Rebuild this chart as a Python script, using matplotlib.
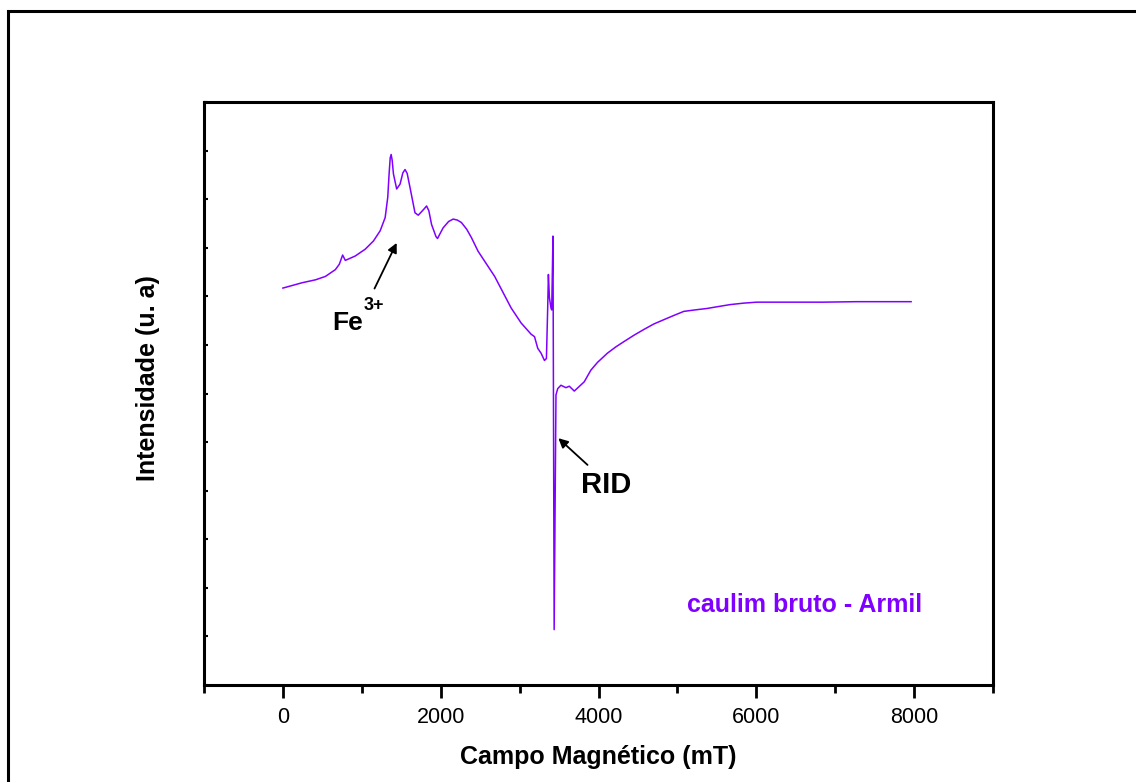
import matplotlib
matplotlib.use("Agg")
import matplotlib.pyplot as plt
from matplotlib.patches import Rectangle
from matplotlib.ticker import MultipleLocator, NullFormatter

# ---- data ----
field_mT = [0, 244, 413, 539, 665, 715, 757, 791, 917, 1043, 1148, 1233, 1296, 1329,
            1346, 1360, 1372, 1385, 1401, 1442, 1485, 1520, 1548, 1575, 1611, 1674,
            1716, 1790, 1821, 1850, 1884, 1940, 1960, 1985,
            2031, 2100, 2158, 2210, 2262, 2330, 2389, 2473, 2684, 2790, 2893, 3020, 3146,
            3189, 3230, 3272, 3315, 3340, 3356, 3365, 3378, 3398, 3407, 3423, 3438, 3461,
            3483, 3524, 3587, 3630, 3693, 3819, 3903, 3987, 4113, 4220, 4324, 4450, 4577,
            4700, 4829, 4960, 5081, 5220, 5375, 5520, 5669, 5840, 6006, 6426, 6847, 7268,
            7688, 7962]
intensity = [8.17, 8.28, 8.34, 8.41, 8.55, 8.66, 8.85, 8.74, 8.83, 8.97, 9.14, 9.35,
             9.62, 10.04, 10.52, 10.85, 10.92, 10.80, 10.52, 10.21, 10.31, 10.54, 10.61,
             10.53, 10.24, 9.72, 9.67, 9.80, 9.86, 9.76, 9.48, 9.23, 9.19, 9.27,
             9.41, 9.54, 9.59, 9.57, 9.52, 9.38, 9.21, 8.93, 8.41, 8.08, 7.76, 7.45, 7.22,
             7.17, 6.93, 6.83, 6.68, 6.72, 7.76, 8.45, 7.97, 7.76, 7.72, 9.24, 1.14, 5.97,
             6.10, 6.17, 6.12, 6.15, 6.05, 6.24, 6.48, 6.64, 6.83, 6.96, 7.07, 7.20, 7.32,
             7.43, 7.52, 7.61, 7.69, 7.72, 7.75, 7.79, 7.83, 7.86, 7.88, 7.88, 7.88, 7.89,
             7.89, 7.89]

x_major_ticks = [0, 2000, 4000, 6000, 8000]
series_label = "caulim bruto - Armil"
xlabel = "Campo Magnético (mT)"
ylabel = "Intensidade (u. a)"

PURPLE = "#8000ff"
FONT = "Liberation Sans"

fig = plt.figure(figsize=(11.36, 7.82), dpi=100)
ax = fig.add_axes([204/1136, 1-685/782, (993-204)/1136, (685-102)/782])

ax.plot(field_mT, intensity, color=PURPLE, lw=1.1, solid_joinstyle="round")

ax.set_xlim(-1000, 9000)
ax.set_ylim(0, 12)

ax.set_xticks(x_major_ticks)
ax.xaxis.set_minor_locator(MultipleLocator(1000))
ax.yaxis.set_major_locator(MultipleLocator(1))
ax.yaxis.set_major_formatter(NullFormatter())

for s in ax.spines.values():
    s.set_linewidth(2.2)

ax.tick_params(axis="x", which="major", direction="out", length=9, width=2.0,
               pad=7, labelsize=15.5)
ax.tick_params(axis="x", which="minor", direction="out", length=5.5, width=2.0)
ax.tick_params(axis="y", which="major", direction="in", length=2.6, width=1.5,
               left=True, right=False, labelleft=False)
for lab in ax.get_xticklabels():
    lab.set_fontfamily(FONT)

ax.set_xlabel(xlabel, fontfamily=FONT, fontweight="bold", fontsize=18)
ax.xaxis.set_label_coords(0.5, -0.1235)
ax.xaxis.label.set_va("center")
ax.set_ylabel(ylabel, fontfamily=FONT, fontweight="bold", fontsize=18)
ax.yaxis.set_label_coords(-0.071, 0.527)
ax.yaxis.label.set_va("center")

# annotations
ax.text(631, 7.30, "Fe", fontfamily=FONT, fontweight="bold", fontsize=19,
        ha="left", va="baseline")
ax.text(1020, 7.72, "3+", fontfamily=FONT, fontweight="bold", fontsize=13,
        ha="left", va="baseline")
ax.annotate("", xy=(1442, 9.10), xytext=(1161, 8.16),
            arrowprops=dict(arrowstyle="-|>", color="black", lw=1.3,
                            mutation_scale=14, shrinkA=0, shrinkB=0))
ax.text(3773, 3.95, "RID", fontfamily=FONT, fontweight="bold", fontsize=21,
        ha="left", va="baseline")
ax.annotate("", xy=(3491, 5.08), xytext=(3861, 4.53),
            arrowprops=dict(arrowstyle="-|>", color="black", lw=1.3,
                            mutation_scale=14, shrinkA=0, shrinkB=0))
ax.text(5120, 1.51, series_label, color=PURPLE, fontfamily=FONT,
        fontweight="bold", fontsize=18, ha="left", va="baseline")

# outer frame
fig.patches.append(Rectangle((8/1136, -0.2), 1.2, 1.2 - 11/782,
                             transform=fig.transFigure, fill=False,
                             edgecolor="black", lw=2.2))

fig.savefig("out.png", dpi=100)
